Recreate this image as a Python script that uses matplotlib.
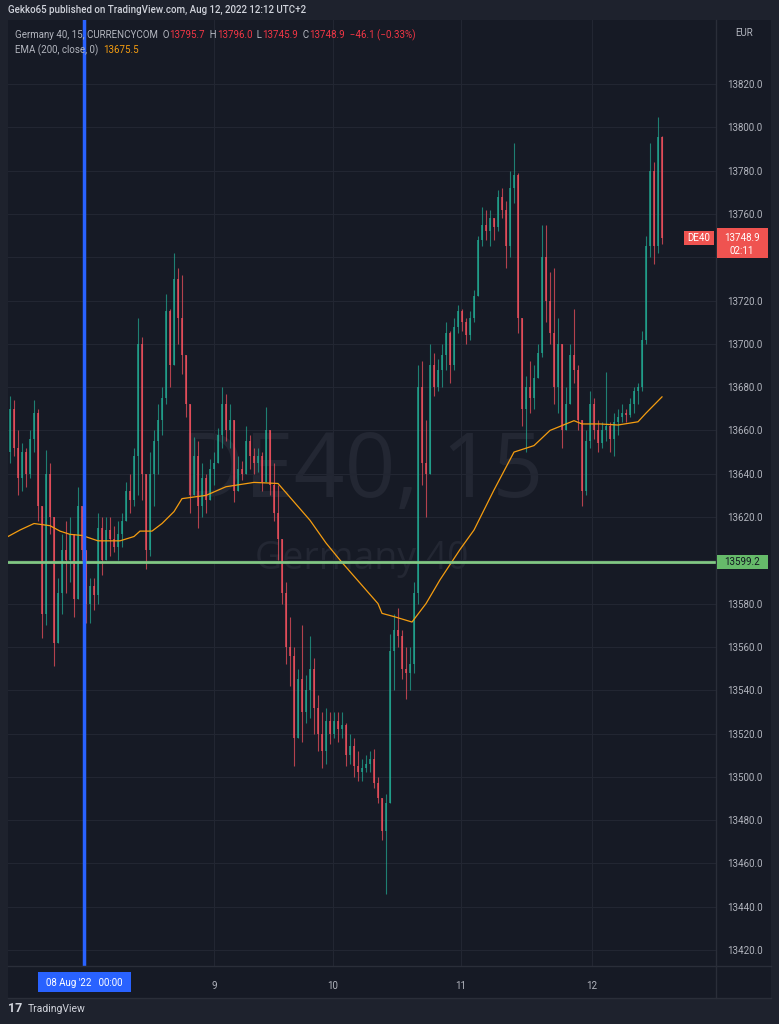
import matplotlib
matplotlib.use('Agg')
import numpy as np
import matplotlib.pyplot as plt
from matplotlib.patches import Rectangle

# Germany 40 (DE40), CURRENCYCOM (open = previous close)
first_open = 13650.0
highs = [13676, 13674, 13660, 13654, 13652, 13660, 13674, 13670, 13615, 13651,
         13645, 13620, 13592, 13612, 13618, 13620, 13608, 13634, 13622, 13603,
         13592, 13592, 13622, 13620, 13620, 13620, 13616, 13618, 13622, 13636,
         13640, 13652, 13712, 13703, 13630, 13650, 13660, 13672, 13680, 13723,
         13716, 13742, 13735, 13732, 13690, 13662, 13657, 13655, 13645, 13640,
         13647, 13650, 13661, 13680, 13677, 13672, 13650, 13648, 13646, 13662,
         13658, 13652, 13652, 13650, 13671, 13660, 13645, 13635, 13610, 13590,
         13574, 13560, 13550, 13570, 13547, 13565, 13555, 13538, 13530, 13532,
         13530, 13530, 13530, 13530, 13525, 13520, 13518, 13512, 13508, 13510,
         13512, 13513, 13500, 13486, 13492, 13566, 13575, 13578, 13568, 13560,
         13560, 13590, 13690, 13692, 13665, 13700, 13696, 13693, 13700, 13710,
         13706, 13712, 13718, 13716, 13712, 13715, 13725, 13750, 13763, 13762,
         13762, 13758, 13771, 13772, 13766, 13780, 13793, 13779, 13710, 13685,
         13692, 13690, 13700, 13755, 13755, 13733, 13735, 13712, 13690, 13680,
         13700, 13716, 13690, 13656, 13660, 13678, 13675, 13665, 13664, 13687,
         13664, 13668, 13670, 13672, 13670, 13675, 13680, 13682, 13706, 13750,
         13793, 13784, 13805, 13796.0]
lows = [13645, 13648, 13630, 13632, 13634, 13638, 13650, 13618, 13564, 13570,
        13612, 13551, 13566, 13575, 13585, 13590, 13574, 13590, 13600, 13571,
        13571, 13577, 13580, 13593, 13606, 13602, 13604, 13600, 13606, 13618,
        13622, 13625, 13630, 13628, 13596, 13602, 13625, 13640, 13658, 13672,
        13680, 13690, 13700, 13686, 13666, 13622, 13635, 13615, 13620, 13622,
        13630, 13635, 13648, 13652, 13655, 13652, 13627, 13634, 13637, 13640,
        13642, 13640, 13641, 13632, 13638, 13630, 13618, 13600, 13580, 13552,
        13542, 13505, 13520, 13516, 13525, 13527, 13520, 13512, 13504, 13506,
        13515, 13518, 13516, 13518, 13505, 13506, 13500, 13498, 13498, 13502,
        13502, 13495, 13488, 13471, 13446, 13510, 13540, 13560, 13545, 13536,
        13540, 13548, 13580, 13635, 13620, 13640, 13676, 13678, 13680, 13688,
        13682, 13688, 13705, 13706, 13700, 13702, 13710, 13722, 13745, 13748,
        13745, 13748, 13752, 13758, 13735, 13740, 13765, 13705, 13662, 13650,
        13668, 13670, 13686, 13694, 13710, 13700, 13672, 13668, 13652, 13662,
        13676, 13682, 13660, 13625, 13630, 13652, 13656, 13650, 13652, 13655,
        13650, 13648, 13658, 13664, 13664, 13666, 13668, 13672, 13678, 13700,
        13740, 13737, 13742, 13745.9]
closes = [13670, 13652, 13638, 13650, 13640, 13656, 13668, 13625, 13575, 13640,
          13620, 13562, 13585, 13605, 13600, 13612, 13582, 13625, 13605, 13580,
          13588, 13584, 13615, 13600, 13614, 13610, 13606, 13612, 13618, 13632,
          13628, 13648, 13700, 13640, 13605, 13640, 13655, 13665, 13675, 13715,
          13690, 13730, 13712, 13695, 13672, 13630, 13648, 13625, 13638, 13628,
          13642, 13645, 13658, 13672, 13660, 13665, 13632, 13642, 13640, 13655,
          13648, 13645, 13648, 13636, 13660, 13635, 13622, 13610, 13585, 13560,
          13556, 13518, 13545, 13530, 13540, 13550, 13532, 13520, 13512, 13526,
          13520, 13526, 13522, 13524, 13510, 13514, 13505, 13502, 13504, 13506,
          13508, 13497, 13490, 13475, 13488, 13558, 13568, 13565, 13550, 13548,
          13552, 13585, 13680, 13645, 13640, 13690, 13680, 13688, 13695, 13705,
          13690, 13708, 13715, 13710, 13704, 13712, 13722, 13748, 13755, 13752,
          13758, 13754, 13768, 13762, 13745, 13772, 13778, 13712, 13670, 13680,
          13675, 13684, 13696, 13740, 13720, 13705, 13680, 13700, 13660, 13672,
          13695, 13688, 13665, 13632, 13655, 13672, 13660, 13654, 13660, 13662,
          13656, 13664, 13666, 13668, 13667, 13672, 13678, 13680, 13702, 13745,
          13780, 13745, 13795.7, 13748.9]

# EMA(200) as drawn on the chart, at bar positions
ema_bars = [-0.5, 2.5, 6, 10, 12.5, 15, 18, 22, 27.5, 31, 32.5, 35.5, 38, 41, 43,
            49, 54, 57.5, 61, 67, 71, 75, 79, 83, 87.5, 92, 93, 96, 100.5, 104,
            107.5, 112.5, 116, 121, 126, 131, 135, 141, 143, 147.5, 152, 157, 159, 163]
ema_vals = [13611, 13614, 13617, 13616, 13613.5, 13612, 13611.5, 13609, 13609, 13611,
            13613.5, 13613.5, 13617, 13622.5, 13628.5, 13630, 13634, 13635, 13636, 13635.5,
            13627, 13618.5, 13608, 13599, 13589.5, 13580, 13575.5, 13574, 13571.5, 13580,
            13591, 13605, 13614, 13632.5, 13650, 13653, 13660, 13664.5, 13663, 13663,
            13662.5, 13664, 13668, 13675.5]

day_labels = ['9', '10', '11', '12']
day_bars = [51, 80.75, 112.75, 145.5]
aug8_bar = 18.5
hline_price = 13599.2
last = {'O': 13795.7, 'H': 13796.0, 'L': 13745.9, 'C': 13748.9, 'chg': -46.1, 'pct': -0.33}
ema_last = 13675.5

W, H = 779, 1024
BG_OUT = '#1e222d'
BG = '#161a25'
GRID = '#222632'
UP, DOWN = '#22ab94', '#f7525f'
TXT = '#b2b5be'

plt.rcParams['font.family'] = ['Roboto', 'DejaVu Sans']

fig = plt.figure(figsize=(W / 100, H / 100), dpi=100, facecolor=BG_OUT)


def fx(x):
    return x / W


def fy(y):
    return 1 - y / H


# pane background (chart + price axis + time axis)
fig.patches.append(Rectangle((fx(8), fy(998)), (771 - 8) / W, (998 - 20) / H,
                             transform=fig.transFigure, facecolor=BG, edgecolor='none', zorder=-10))

ax = fig.add_axes([fx(8), fy(966), 708 / W, 946 / H])
ax.set_facecolor(BG)
for s in ax.spines.values():
    s.set_visible(False)

opens = np.r_[first_open, closes[:-1]]
c = np.array(closes, float)
hi = np.maximum(np.array(highs, float), np.maximum(opens, c))
lo = np.minimum(np.array(lows, float), np.minimum(opens, c))
idx = np.arange(len(c))
cols = np.where(c >= opens, UP, DOWN)

# watermark
ax.text(0.5, 0.52, 'DE40, 15', transform=ax.transAxes, ha='center', va='center',
        fontsize=64, color='#232733', family='Open Sans', zorder=1)
ax.text(0.5, 0.43, 'Germany 40', transform=ax.transAxes, ha='center', va='center',
        fontsize=27, color='#232733', family='Open Sans', zorder=1)

ax.vlines(idx, lo, hi, colors=cols, linewidth=0.8, alpha=0.7, zorder=3)
body = np.maximum(np.abs(c - opens), 0.6)
ax.bar(idx, body, bottom=np.minimum(opens, c), width=0.42, color=cols, alpha=0.7,
       linewidth=0, zorder=3)

ax.plot(ema_bars, ema_vals, color='#f59d10', linewidth=0.9, zorder=4)
ax.axhline(hline_price, color='#81c784', linewidth=2, zorder=5)
ax.axvline(aug8_bar, color='#2962ff', linewidth=2.5, zorder=6)

ax.set_xlim(-0.5, 176.5)
ax.set_ylim(13412.6, 13849.6)
yt = np.arange(13420, 13821, 20)
ax.set_yticks(yt)
# labels hidden behind the price boxes are left blank
ax.set_yticklabels(['' if v in (13600, 13740) else '%.1f' % v for v in yt])
ax.yaxis.tick_right()
ax.tick_params(axis='y', length=0, pad=8, labelsize=7, labelcolor=TXT)
ax.set_xticks(day_bars)
ax.set_xticklabels(day_labels)
ax.tick_params(axis='x', length=0, pad=11, labelsize=7, labelcolor=TXT)
ax.grid(True, color=GRID, linewidth=0.8, zorder=0)

# separators
fig.add_artist(plt.Line2D([fx(716), fx(716)], [fy(20), fy(998)], color='#2a2e39', lw=1))
fig.add_artist(plt.Line2D([fx(8), fx(771)], [fy(966), fy(966)], color='#2a2e39', lw=1))
fig.add_artist(plt.Line2D([fx(8), fx(771)], [fy(998), fy(998)], color='#2a2e39', lw=1))

fig.text(fx(735), fy(33), 'EUR', color=TXT, fontsize=7, va='center')

# green price box
yg = H - ax.transData.transform((0, hline_price))[1]
fig.patches.append(Rectangle((fx(717), fy(yg + 7)), 51 / W, 14 / H, transform=fig.transFigure,
                             facecolor='#66bb6a', edgecolor='none', zorder=10))
fig.text(fx(742), fy(yg), '%.1f' % hline_price, color='#131722', fontsize=7, ha='center',
         va='center', zorder=11)

# last price box with countdown, and symbol tag
yl = H - ax.transData.transform((0, last['C']))[1]
fig.patches.append(Rectangle((fx(717), fy(yl + 20)), 51 / W, 30 / H, transform=fig.transFigure,
                             facecolor='#ef5350', edgecolor='none', zorder=10))
fig.text(fx(742), fy(yl), '%.1f' % last['C'], color='white', fontsize=7, ha='center', va='center', zorder=11)
fig.text(fx(742), fy(yl + 13), '02:11', color='white', fontsize=7, ha='center', va='center', zorder=11)
fig.patches.append(Rectangle((fx(684), fy(yl + 7)), 30 / W, 14 / H, transform=fig.transFigure,
                             facecolor='#ef5350', edgecolor='none', zorder=10))
fig.text(fx(699), fy(yl), 'DE40', color='white', fontsize=7, ha='center', va='center', zorder=11)

# blue date box on the time axis
fig.patches.append(Rectangle((fx(38), fy(992)), 93 / W, 20 / H, transform=fig.transFigure,
                             facecolor='#2962ff', edgecolor='none', zorder=10))
fig.text(fx(84), fy(983), "08 Aug '22   00:00", color='white', fontsize=7, ha='center',
         va='center', zorder=11)

renderer = fig.canvas.get_renderer()


def text_run(x, y, parts, size=7, weight='normal'):
    for s, col in parts:
        t = fig.text(fx(x), fy(y), s, color=col, fontsize=size, va='center', ha='left',
                     weight=weight, zorder=12)
        x = t.get_window_extent(renderer=renderer).x1


RED = '#f23645'
text_run(8, 10, [('Gekko65 published on TradingView.com, Aug 12, 2022 12:12 UTC+2', '#d1d4dc')],
         weight='medium')
text_run(15, 35, [('Germany 40, 15, CURRENCYCOM  O', TXT), ('%.1f' % last['O'], RED),
                  ('  H', TXT), ('%.1f' % last['H'], RED), ('  L', TXT), ('%.1f' % last['L'], RED),
                  ('  C', TXT), ('%.1f' % last['C'], RED),
                  ('  \u2212%.1f (\u2212%.2f%%)' % (abs(last['chg']), abs(last['pct'])), RED)])
text_run(15, 50, [('EMA (200, close, 0)  ', TXT), ('%.1f' % ema_last, '#f59d10')])

# footer logo
text_run(8, 1009, [('17', '#d1d4dc')], size=9, weight='bold')
text_run(28, 1009, [('TradingView', '#d1d4dc')], size=7.5)

fig.savefig('out.png', dpi=100, facecolor=BG_OUT)
